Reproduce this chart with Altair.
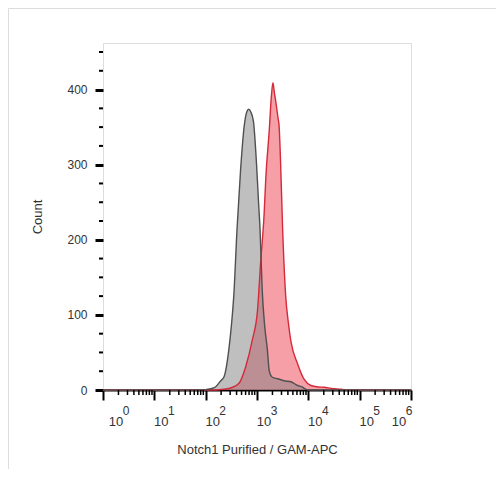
import altair as alt
import pandas as pd
import numpy as np

# ---- data (x in log10 units of fluorescence) ----
gray_log = [0.0, 1.90, 2.00, 2.12, 2.19, 2.29, 2.36, 2.45, 2.50, 2.55, 2.61, 2.68,
            2.75, 2.80, 2.84, 2.88, 2.93, 2.99, 3.03, 3.06, 3.10, 3.15, 3.20, 3.24,
            3.30, 3.40, 3.55, 3.66, 3.79, 3.88, 3.95, 4.00, 6.0]
gray_count = [0, 0, 0.5, 2, 4, 12, 18, 53, 85, 128, 213, 293,
              351, 370, 374, 370, 358, 302, 250, 213, 135, 85, 55, 25,
              17, 15, 12, 11, 6, 4, 1, 0, 0]

red_log = [0.0, 2.20, 2.35, 2.50, 2.65, 2.78, 2.91, 3.01, 3.07, 3.14, 3.17, 3.24,
           3.28, 3.31, 3.34, 3.37, 3.41, 3.43, 3.46, 3.50, 3.56, 3.61, 3.66, 3.79,
           3.92, 4.05, 4.20, 4.31, 4.45, 4.64, 4.77, 6.0]
red_count = [0, 0, 1, 3, 9, 31, 67, 106, 169, 236, 280, 347,
             391, 409, 395, 382, 362, 352, 302, 213, 124, 90, 65, 35,
             14, 6, 4, 3.6, 2, 1, 0, 0]

decades = [0, 1, 2, 3, 4, 5, 6]
y_major = [0, 100, 200, 300, 400]
y_minor = [25, 50, 75, 125, 150, 175, 225, 250, 275, 325, 350, 375, 425, 450]

x_title = "Notch1 Purified / GAM-APC"
y_title = "Count"

W, H = 308, 347
FONT = "Liberation Sans"
TXT = "#333333"

gray_df = pd.DataFrame({"x": gray_log, "y": gray_count})
red_df = pd.DataFrame({"x": red_log, "y": red_count})
minor_x = [d + float(np.log10(k)) for d in decades[:-1] for k in range(2, 10)]
minor_x_df = pd.DataFrame({"x": minor_x})
minor_y_df = pd.DataFrame({"y": y_minor})
dec_df = pd.DataFrame({"x": decades, "base": ["10"] * len(decades),
                       "exp": [str(d) for d in decades]})

xs = alt.Scale(domain=[0, 6], nice=False, zero=False)
ys = alt.Scale(domain=[0, 462], nice=False)

x_axis = alt.Axis(values=decades, labels=False, tickSize=10, tickWidth=2,
                  tickColor="black", domainColor="black", domainWidth=2,
                  grid=False, title=x_title, titleFontSize=13,
                  titleFontWeight="normal", titleColor=TXT, titlePadding=42,
                  titleFont=FONT)
y_axis = alt.Axis(values=y_major, tickSize=8, tickWidth=3, tickColor="black",
                  domain=False, grid=False, labelFontSize=12, labelColor=TXT,
                  labelPadding=8, labelFont=FONT, title=y_title,
                  titleFontSize=13, titleFontWeight="normal", titleColor=TXT,
                  titlePadding=22, titleFont=FONT)

X = alt.X("x:Q", scale=xs, axis=x_axis)
Y = alt.Y("y:Q", scale=ys, axis=y_axis)

red_area = alt.Chart(red_df).mark_area(interpolate="monotone", color="#ef4050",
                                        opacity=0.5).encode(x=X, y=Y)
gray_area = alt.Chart(gray_df).mark_area(interpolate="monotone", color="#808080",
                                          opacity=0.5).encode(x=X, y=Y)
red_line = alt.Chart(red_df).mark_line(interpolate="monotone", color="#d42a3a",
                                        strokeWidth=1.4).encode(x=X, y=Y)
gray_line = alt.Chart(gray_df).mark_line(interpolate="monotone", color="#505050",
                                          strokeWidth=1.4).encode(x=X, y=Y)

minor_xt = alt.Chart(minor_x_df).mark_rule(color="black", strokeWidth=1.5).encode(
    x=alt.X("x:Q", scale=xs), y=alt.value(H), y2=alt.value(H + 5))
minor_yt = alt.Chart(minor_y_df).mark_rule(color="black", strokeWidth=2).encode(
    y=alt.Y("y:Q", scale=ys), x=alt.value(-4), x2=alt.value(0))

def dec_labels(filt, dx_base, dx_exp):
    src = alt.Chart(dec_df).transform_filter(filt)
    base = src.mark_text(fontSize=13, color=TXT, font=FONT, dx=dx_base,
                         baseline="middle").encode(
        x=alt.X("x:Q", scale=xs), y=alt.value(H + 32), text="base:N")
    exp = src.mark_text(fontSize=12, color=TXT, font=FONT, dx=dx_exp,
                        baseline="middle").encode(
        x=alt.X("x:Q", scale=xs), y=alt.value(H + 21), text="exp:N")
    return base + exp

lab_first = dec_labels("datum.x == 0", 13, 23)
lab_mid = dec_labels("datum.x > 0 && datum.x < 6", 7, 17)
lab_last = dec_labels("datum.x == 6", -12, -2)

border = alt.Chart(pd.DataFrame({"a": [0]})).mark_rect(
    filled=False, stroke="#dddddd", strokeWidth=1).encode(
    x=alt.value(-94.5), y=alt.value(-34.5), x2=alt.value(W + 300),
    y2=alt.value(H + 300))

chart = alt.layer(
    border, red_area, gray_area, red_line, gray_line, minor_xt, minor_yt,
    lab_first, lab_mid, lab_last
).properties(
    width=W, height=H,
    autosize=alt.AutoSizeParams(type="none"),
    padding={"left": 95, "top": 35, "right": 85, "bottom": 79},
).configure_view(
    stroke="#9a9a9a", strokeWidth=1
).configure(font=FONT)

chart.save("out.html", embed_options={"renderer": "svg", "actions": False})
